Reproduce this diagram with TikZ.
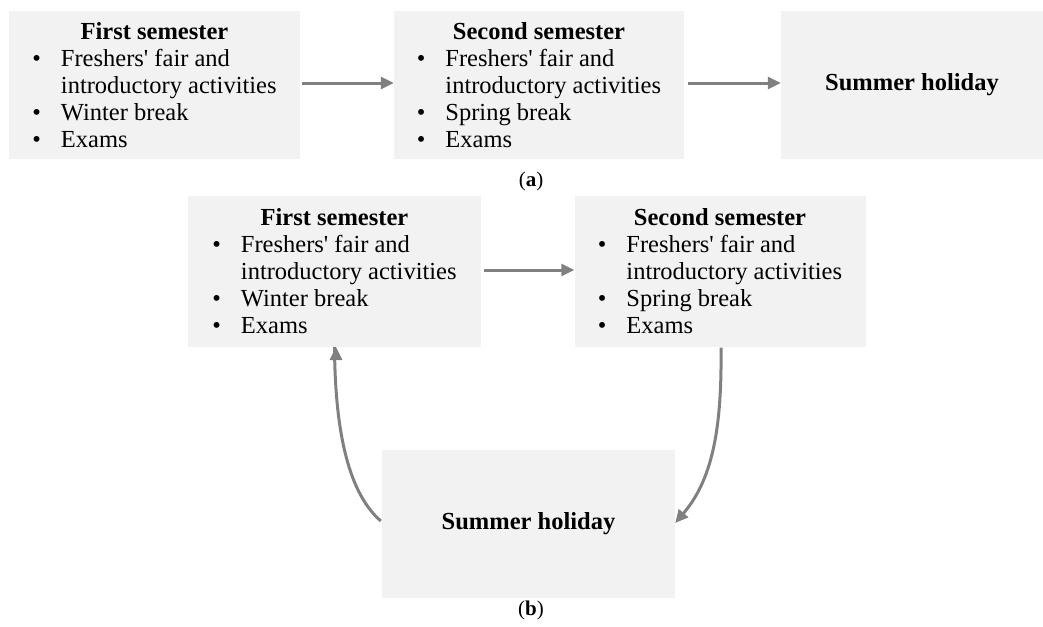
\documentclass[tikz,border=0pt]{standalone}
\usepackage{fontspec}
\setmainfont{Liberation Serif}
\usetikzlibrary{arrows.meta}
\definecolor{boxfill}{HTML}{F2F2F2}
\definecolor{arrowgray}{HTML}{808080}
\tikzset{
  box/.style={fill=boxfill, draw=none, inner sep=0pt, font=\fontsize{24.5}{27}\selectfont},
  conn/.style={draw=arrowgray, line width=3pt, -{Triangle[length=13pt,width=12pt]}},
  caption/.style={font=\fontsize{21}{24}\selectfont}
}
\newcommand{\semlist}[3]{%
  \begin{tabular}{@{}l@{\hspace{20pt}}l@{}}
  \multicolumn{2}{c}{\rule{0pt}{25pt}\textbf{#1}}\\
  \textbullet & Freshers\textquotesingle{} fair and\\
   & introductory activities\\
  \textbullet & #2\\
  \textbullet & #3
  \end{tabular}}
\begin{document}
\begin{tikzpicture}[x=1pt,y=-1pt]
\useasboundingbox (0,0) rectangle (1043,626);
% (a)
\node[box, minimum width=291pt, minimum height=147pt] (a1) at (154.5,85) {\semlist{First semester}{Winter break}{Exams}};
\node[box, minimum width=290pt, minimum height=147pt] (a2) at (539,85) {\semlist{Second semester}{Spring break}{Exams}};
\node[box, minimum width=262pt, minimum height=147pt] (a3) at (912,85) {\textbf{Summer holiday}};
\draw[conn] (a1.east |- 0,83) ++(2,0) coordinate (a1e) -- (a2.west |- a1e);
\draw[conn] (a2.east |- 0,83) ++(4,0) coordinate (a2e) -- (a3.west |- a2e);
\node[caption] (capa) at (531,181) {(\textbf{a})};
% (b)
\node[box, minimum width=293pt, minimum height=151pt] (b1) at (334.5,271) {\semlist{First semester}{Winter break}{Exams}};
\node[box, minimum width=291pt, minimum height=151pt] (b2) at (720,271) {\semlist{Second semester}{Spring break}{Exams}};
\node[box, minimum width=293pt, minimum height=148pt] (b3) at (528.5,524) {\textbf{Summer holiday}};
\draw[conn] (b1.east |- 0,270) ++(3,0) coordinate (b1e) -- (b2.west |- b1e);
\draw[conn] (b2.south) ++(1,1) coordinate (b2s) .. controls (722,430) and (712,480) .. (b3.east |- 0,523);
\draw[conn] (b3.west |- 0,521) ++(-1,0) coordinate (b3w) .. controls (345,490) and (335,420) .. (b1.south |- 0,347) ++(1.5,0);
\node[caption] (capb) at (531,610) {(\textbf{b})};
\end{tikzpicture}
\end{document}
